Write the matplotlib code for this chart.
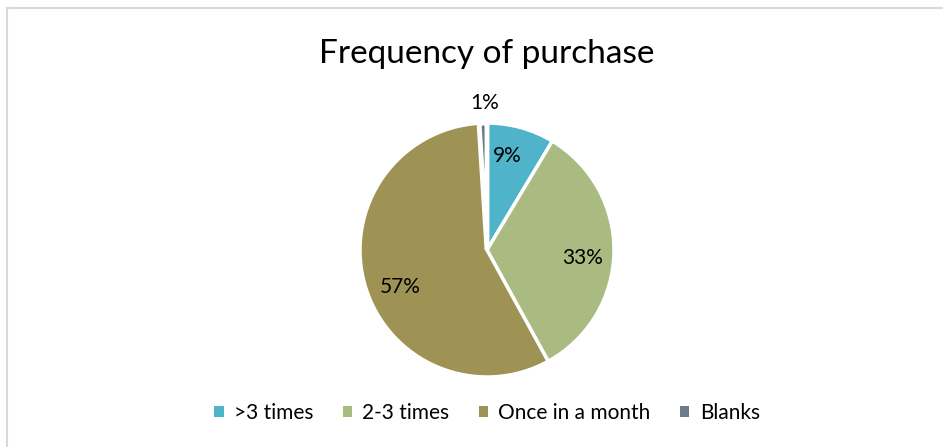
import matplotlib
matplotlib.use("Agg")
import matplotlib.pyplot as plt
from matplotlib.lines import Line2D
from matplotlib.patches import Patch

categories = [">3 times", "2-3 times", "Once in a month", "Blanks"]
values = [8.6, 33.4, 57.0, 1.0]
labels = ["9%", "33%", "57%", "1%"]
colors = ["#4FB3C9", "#A9BB80", "#9E9255", "#6B7B8C"]

plt.rcParams['font.family'] = ['Lato', 'DejaVu Sans']

fig = plt.figure(figsize=(9.43, 4.47), dpi=100)
W, H = 943, 447

# border lines (top and left)
fig.add_artist(Line2D([7 / W, 1], [1 - 8 / H, 1 - 8 / H], color="#D9D9D9", lw=1.5, transform=fig.transFigure))
fig.add_artist(Line2D([7 / W, 7 / W], [0, 1 - 8 / H], color="#D9D9D9", lw=1.5, transform=fig.transFigure))

r = 127
cx, cy = 487, 250
ax = fig.add_axes([(cx - r) / W, 1 - (cy + r) / H, 2 * r / W, 2 * r / H])
wedges, _ = ax.pie(values, colors=colors, startangle=90, counterclock=False,
                   wedgeprops=dict(edgecolor="white", linewidth=2.5),
                   radius=1.0)
wedges[3].set_linewidth(3.5)
ax.set_xlim(-1, 1)
ax.set_ylim(-1, 1)
ax.set_aspect("equal")
ax.axis("off")

label_pos = [(0.16, 0.74), (0.75, -0.06), (-0.68, -0.29), (-0.02, 1.16)]
for lab, (x, y) in zip(labels, label_pos):
    ax.text(x, y, lab, ha="center", va="center", fontsize=15, color="#000000")

fig.text(cx / W, 1 - 54 / H, "Frequency of purchase", ha="center", va="center", fontsize=24, color="#000000")

handles = [Patch(facecolor=c, edgecolor="none") for c in colors]
fig.legend(handles, categories, loc="center", bbox_to_anchor=(cx / W, 1 - 413 / H),
           ncol=4, frameon=False, fontsize=15, handlelength=0.45, handleheight=0.45,
           handletextpad=0.5, columnspacing=1.4)

fig.savefig("out.png", dpi=100, facecolor="white")
